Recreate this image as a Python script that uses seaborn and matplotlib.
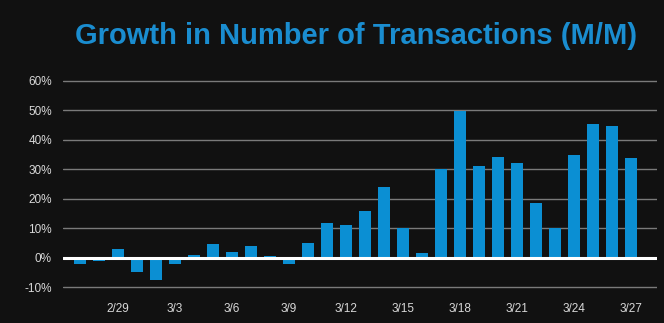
import numpy as np
import pandas as pd
import seaborn as sb
import matplotlib
matplotlib.use("Agg")
import matplotlib.pyplot as plt

days = ["2/27", "2/28", "2/29", "3/1", "3/2", "3/3", "3/4", "3/5", "3/6", "3/7",
        "3/8", "3/9", "3/10", "3/11", "3/12", "3/13", "3/14", "3/15", "3/16", "3/17",
        "3/18", "3/19", "3/20", "3/21", "3/22", "3/23", "3/24", "3/25", "3/26", "3/27"]
growth = [-2.0, -1.0, 3.0, -5.0, -7.5, -2.0, 1.0, 4.5, 2.0, 4.0,
          0.7, -2.0, 5.0, 11.6, 11.2, 15.8, 24.0, 10.0, 1.6, 30.0,
          49.8, 31.0, 34.3, 32.0, 18.5, 10.0, 34.7, 45.2, 44.5, 33.8]
tick_days = ["2/29", "3/3", "3/6", "3/9", "3/12", "3/15", "3/18", "3/21", "3/24", "3/27"]
y_ticks = [-10, 0, 10, 20, 30, 40, 50, 60]

bg = "#111111"
blue = "#0b8fd3"

sb.set_style("dark")
plt.rcParams["font.family"] = ["Liberation Sans", "DejaVu Sans"]

df = pd.DataFrame({"day": days, "growth": np.array(growth) / 100})

fig = plt.figure(figsize=(6.64, 3.23), dpi=100, facecolor=bg)
ax = fig.add_axes([0.095, 0.102, 0.895, 0.657])
ax.set_facecolor(bg)

for t in y_ticks:
    if t != 0:
        ax.axhline(t / 100, color="#7a7a7a", lw=1, zorder=0)

sb.barplot(data=df, x="day", y="growth", color=blue, width=0.66,
           saturation=1, linewidth=0, ax=ax, zorder=2)
ax.axhline(0, color="white", lw=2.2, zorder=3)

ax.set_ylim(-0.11, 0.61)
ax.set_xlim(-0.9, 30.4)
ax.set_yticks([t / 100 for t in y_ticks])
ax.set_yticklabels([f"{t}%" for t in y_ticks])
ax.set_xticks([days.index(d) for d in tick_days])
ax.set_xticklabels(tick_days)
ax.tick_params(colors="#d8d8d8", labelsize=8.5, length=0, pad=8)
ax.tick_params(axis="x", pad=9)
ax.set_xlabel("")
ax.set_ylabel("")
ax.grid(False)
for s in ax.spines.values():
    s.set_visible(False)

fig.text(0.536, 0.89, "Growth in Number of Transactions (M/M)", ha="center", va="center",
         color="#1a8dd0", fontsize=21, fontweight="bold")

plt.savefig("out.png", dpi=100, facecolor=bg)
plt.close()
